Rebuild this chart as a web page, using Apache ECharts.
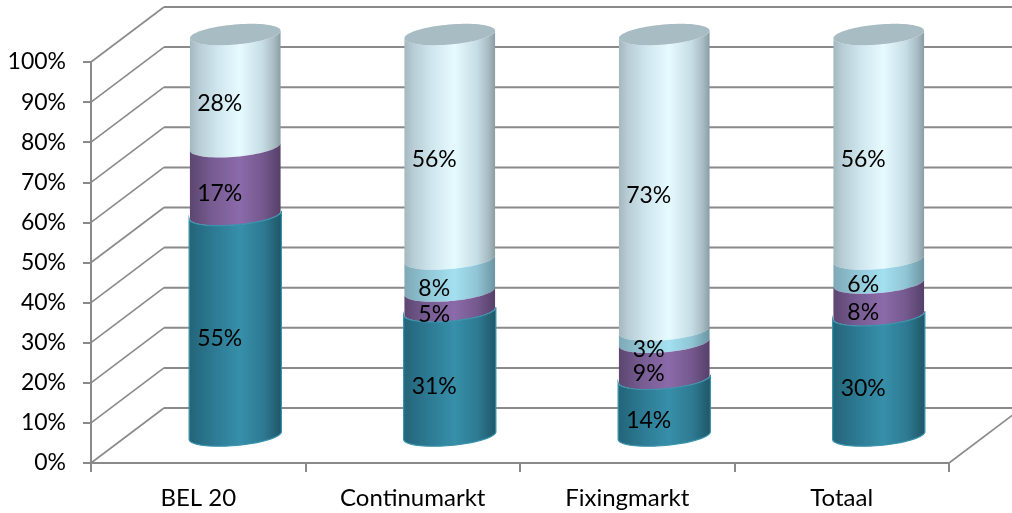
<!DOCTYPE html>
<html>
<head>
<meta charset="utf-8">
<style>html,body{margin:0;padding:0;background:#fff}#c{width:1012px;height:513px}</style>
<script src="https://cdn.jsdelivr.net/npm/echarts@6/dist/echarts.min.js"></script>
</head>
<body>
<div id="c"></div>
<script>
// Share of turnover per market segment, stacked to 100%
const categories = ['BEL 20', 'Continumarkt', 'Fixingmarkt', 'Totaal'];
const tealValues = [55, 31, 14, 30];
const purpleValues = [17, 5, 9, 8];
const skyValues = [0, 8, 3, 6];
const paleValues = [28, 56, 73, 56];
const axisTicks = [0, 10, 20, 30, 40, 50, 60, 70, 80, 90, 100];

const FONT = 'Lato';
const LINE = '#8a8a8a';
const DEPTH_X = 73, DEPTH_Y = 55;      // pseudo-3D offset from front plane to back wall
const RADIUS_X = 45.5, RADIUS_Y = 10;  // cylinder cross-section ellipse
const TILT = -5 * Math.PI / 180;

const layers = [tealValues, purpleValues, skyValues, paleValues];
const totals = categories.map((_, i) => layers.reduce((s, l) => s + l[i], 0));

function share(values, i) { return values[i] / totals[i] * 100; }
function stackBase(layerIndex, i) {
  let b = 0;
  for (let k = 0; k < layerIndex; k++) b += share(layers[k], i);
  return b;
}

function hGrad(stops) {
  return new echarts.graphic.LinearGradient(0, 0, 1, 0,
    stops.map((c, i) => ({ offset: c[0], color: c[1] })));
}

function ellipsePoint(cx, cy, t, grow) {
  const a = RADIUS_X + grow, b = RADIUS_Y;
  return [
    cx + a * Math.cos(t) * Math.cos(TILT) - b * Math.sin(t) * Math.sin(TILT),
    cy + a * Math.cos(t) * Math.sin(TILT) + b * Math.sin(t) * Math.cos(TILT)
  ];
}
function frontArc(cx, cy, grow, reverse) {
  const pts = [];
  for (let s = 0; s <= 40; s++) {
    const t = Math.PI * (reverse ? s / 40 : 1 - s / 40);
    pts.push(ellipsePoint(cx, cy, t, grow));
  }
  return pts;
}
function cylinderAxis(api, i, v) {
  const p = api.coord([i, v]);
  return [p[0] + DEPTH_X / 2 + 0.5, p[1] - DEPTH_Y / 2];
}

// One stacked slice of a cylinder: side wall bounded by the front arcs of two ellipses
function sliceSeries(layerIndex, stops, opts) {
  opts = opts || {};
  const fill = hGrad(stops);
  return {
    type: 'custom',
    coordinateSystem: 'cartesian2d',
    z: opts.z,
    silent: true,
    data: categories.map((_, i) => [i, stackBase(layerIndex, i), stackBase(layerIndex, i) + share(layers[layerIndex], i)]),
    encode: { x: 0, y: [1, 2] },
    renderItem(params, api) {
      const i = api.value(0), lo = api.value(1), hi = api.value(2);
      if (hi - lo <= 0) return { type: 'group', children: [] };
      const up = cylinderAxis(api, i, hi), dn = cylinderAxis(api, i, lo);
      const grow = opts.grow || 0;
      const pts = frontArc(up[0], up[1], grow, false).concat(frontArc(dn[0], dn[1], grow, true));
      const children = [{
        type: 'polygon',
        shape: { points: pts },
        style: { fill: fill, stroke: opts.stroke || null, lineWidth: opts.strokeWidth || 0 }
      }];
      if (opts.cap) {
        const rim = [];
        for (let s = 0; s < 80; s++) rim.push(ellipsePoint(up[0], up[1], s / 80 * Math.PI * 2, 0));
        children.push({ type: 'polygon', shape: { points: rim }, style: { fill: opts.cap } });
      }
      return { type: 'group', children };
    }
  };
}

// Side wall lines and back wall rules of the pseudo-3D frame
const wallSeries = {
  type: 'custom',
  coordinateSystem: 'cartesian2d',
  z: 1,
  silent: true,
  data: axisTicks.map(v => [0, v]),
  encode: { x: 0, y: 1 },
  renderItem(params, api) {
    const v = api.value(1);
    const y = api.coord([0, v])[1];
    const left = params.coordSys.x, right = left + params.coordSys.width;
    const sideStyle = { stroke: LINE, lineWidth: 1.6, fill: null };
    const backStyle = { stroke: LINE, lineWidth: 2, fill: null };
    const children = [
      { type: 'line', shape: { x1: left, y1: y, x2: left + DEPTH_X, y2: y - DEPTH_Y }, style: sideStyle },
      { type: 'line', shape: { x1: left + DEPTH_X, y1: y - DEPTH_Y, x2: right + DEPTH_X, y2: y - DEPTH_Y }, style: backStyle }
    ];
    if (v === 0) {
      children.push({ type: 'line', shape: { x1: right, y1: y, x2: right + DEPTH_X, y2: y - DEPTH_Y }, style: sideStyle });
    }
    return { type: 'group', children };
  }
};

// Percent labels, one per visible slice
const labelData = [];
layers.forEach((values, l) => categories.forEach((_, i) => {
  if (values[i] > 0) labelData.push([i, stackBase(l, i) + share(values, i) / 2, values[i]]);
}));
const labelSeries = {
  type: 'custom',
  coordinateSystem: 'cartesian2d',
  z: 20,
  silent: true,
  data: labelData,
  encode: { x: 0, y: 1 },
  renderItem(params, api) {
    const c = cylinderAxis(api, api.value(0), api.value(1));
    return {
      type: 'text',
      x: c[0] - 15.5,
      y: c[1] + 13,
      style: {
        text: api.value(2) + '%',
        fill: '#000',
        font: '23px ' + FONT,
        align: 'center',
        verticalAlign: 'middle'
      }
    };
  }
};

const chart = echarts.init(document.getElementById('c'), null, { renderer: 'canvas' });
chart.setOption({
  animation: false,
  backgroundColor: '#fff',
  grid: { left: 91, right: 63, top: 62, bottom: 50 },
  xAxis: {
    type: 'category',
    data: categories,
    axisLine: { show: true, lineStyle: { color: LINE, width: 2 } },
    axisTick: { show: true, length: 9, alignWithLabel: false, lineStyle: { color: LINE, width: 2 } },
    axisLabel: { color: '#000', fontFamily: FONT, fontSize: 24, margin: 23, interval: 0 },
    splitLine: { show: false }
  },
  yAxis: {
    type: 'value',
    min: 0,
    max: 100,
    interval: 10,
    axisLine: { show: true, lineStyle: { color: LINE, width: 2 } },
    axisTick: { show: true, length: 8, lineStyle: { color: LINE, width: 2 } },
    axisLabel: { color: '#000', fontFamily: FONT, fontSize: 23, margin: 25, padding: [2, 0, 0, 0], formatter: '{value}%' },
    splitLine: { show: false }
  },
  series: [
    wallSeries,
    sliceSeries(3, [[0, '#a4b8c0'], [0.1, '#b8cdd5'], [0.3, '#cfe6ee'], [0.55, '#e6fbff'], [0.8, '#c6dde5'], [0.93, '#a6bac1'], [1, '#8a9da5']], { z: 3, cap: '#a8bcc4' }),
    sliceSeries(2, [[0, '#7fa8b6'], [0.3, '#93cbdb'], [0.55, '#a3e0f0'], [0.8, '#90c5d5'], [1, '#6d94a2']], { z: 4 }),
    sliceSeries(1, [[0, '#5d4670'], [0.25, '#775c92'], [0.55, '#8b6aa9'], [0.8, '#75598e'], [1, '#56406a']], { z: 5 }),
    sliceSeries(0, [[0, '#236478'], [0.3, '#2e7c96'], [0.55, '#378fa9'], [0.8, '#2e7a92'], [1, '#1f5566']], { z: 6, grow: 0.8, stroke: '#3a93ac', strokeWidth: 1.2 }),
    labelSeries
  ]
});
</script>
</body>
</html>
